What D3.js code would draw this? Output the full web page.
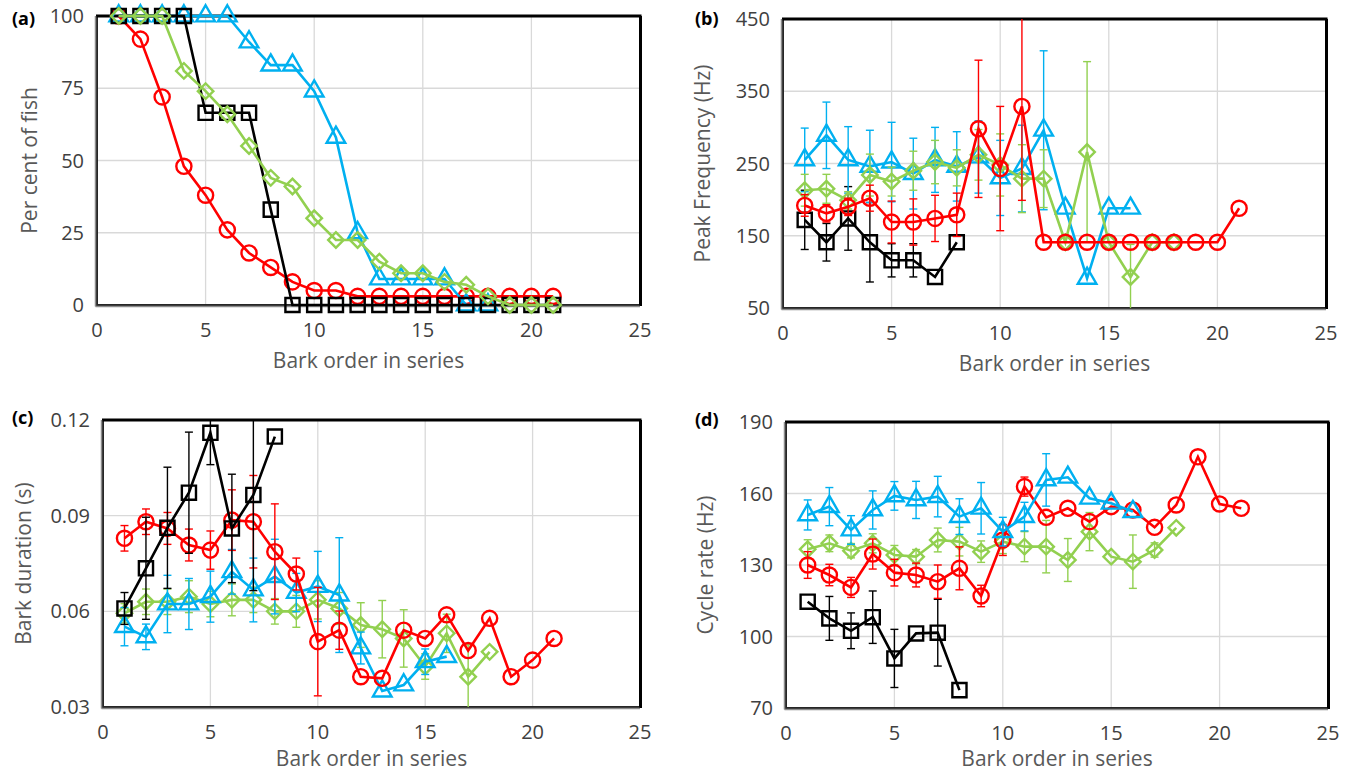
<!DOCTYPE html>
<html>
<head>
<meta charset="utf-8">
<script src="https://cdn.jsdelivr.net/npm/d3@7"></script>
<style>
  body { margin: 0; background: #fff; }
  svg text { font-family: "Open Sans", "Noto Sans", sans-serif; }
</style>
</head>
<body>
<svg id="chart" width="1352" height="775"></svg>
<script>
// bark order 1..21
const barkOrder = d3.range(1, 22)

// (a) per cent of fish
const aRed   = [100, 92, 72, 48, 38, 26, 18, 13, 8, 5, 5, 3, 3, 3, 3, 3, 3, 3, 3, 3, 3]
const aBlue  = [100, 100, 100, 100, 100, 100, 91, 83, 83, 74, 58, 25, 9, 9, 9, 9, 0, 0]
const aGreen = [100, 100, 100, 81, 74, 66, 55, 44, 41, 30, 22.5, 22.5, 15, 11, 11, 8, 7, 3, 0, 0, 0]
const aBlack = [100, 100, 100, 100, 66.5, 66.5, 66.5, 33, 0, 0, 0, 0, 0, 0, 0, 0, 0, 0, 0, 0, 0]

// (b) peak frequency (Hz) and error
const bRed      = [192, 181, 190, 202, 169, 169, 174, 179, 298, 243, 329, 141, 141, 141, 141, 141, 141, 141, 141, 141, 188]
const bRedErr   = [15, 12, 12, 18, 29, 32, 32, 30, 95, 86, 130, null, null, null, null, null, null, null, null, null, null]
const bBlue     = [255, 289, 255, 246, 252, 236, 255, 246, 259, 230, 243, 296, 188, 91, 188, 188]
const bBlueErr  = [44, 46, 46, 50, 55, 49, 45, 48, 50, 52, 60, 110, null, null, null, null]
const bGreen    = [213, 215, 199, 234, 225, 240, 252, 244, 262, 248, 229, 229, 141, 266, 141, 93, 141, 141]
const bGreenErr = [22, 20, 12, 29, 20, 27, 30, 25, 35, 43, 47, 40, null, 125, null, 45, null, null]
const bBlack    = [172, 141, 174, 141, 116, 116, 93, 141]
const bBlackErr = [41, 26, 44, 55, 23, 23, null, null]

// (c) bark duration (s) and error
const cRed      = [0.0829, 0.0881, 0.086, 0.0808, 0.0792, 0.0886, 0.0881, 0.0787, 0.0717, 0.0505, 0.0541, 0.0395, 0.039, 0.0541, 0.0515, 0.0589, 0.0477, 0.0578, 0.0395, 0.0447, 0.0515]
const cRedErr   = [0.004, 0.004, 0.005, 0.005, 0.006, 0.0095, 0.0145, 0.015, 0.005, 0.017, 0.006, null, null, null, null, null, null, null, null, null, null]
const cBlue     = [0.0552, 0.052, 0.0623, 0.0623, 0.0646, 0.0724, 0.0667, 0.0709, 0.0659, 0.0678, 0.0651, 0.0485, 0.0350, 0.0369, 0.0442, 0.0458]
const cBlueErr  = [0.006, 0.004, 0.009, 0.008, 0.008, 0.007, 0.01, 0.0117, 0.006, 0.011, 0.018, 0.005, null, null, 0.004, null]
const cGreen    = [0.0594, 0.063, 0.063, 0.0646, 0.0623, 0.0636, 0.0636, 0.06, 0.06, 0.0636, 0.0609, 0.0557, 0.0544, 0.0515, 0.0427, 0.0531, 0.0395, 0.0473]
const cGreenErr = [0.003, 0.004, 0.004, 0.005, 0.004, 0.005, 0.004, 0.004, 0.005, 0.006, 0.005, 0.007, 0.009, 0.009, 0.004, 0.006, 0.01, null]
const cBlack    = [0.0609, 0.0735, 0.0862, 0.0972, 0.116, 0.086, 0.0965, 0.1148]
const cBlackErr = [0.005, 0.016, 0.019, 0.019, 0.01, 0.017, 0.03, null]

// (d) cycle rate (Hz) and error
const dRed      = [130, 125.8, 120.6, 134.6, 126.8, 125.8, 123, 128.6, 117, 140.5, 162.9, 150, 153.8, 148.2, 154.5, 153.1, 145.8, 155.2, 175.4, 155.6, 153.8]
const dRedErr   = [5.6, 4.5, 4.2, 6.3, 5.6, 5, 7, 9, 4.5, 6.5, 4, null, null, null, null, null, null, null, null, null, null]
const dBlue     = [151, 154.5, 144.7, 153.1, 159, 157.3, 158.7, 150.3, 153.8, 144, 150.3, 165.7, 166.8, 158, 155.9, 152.4]
const dBlueErr  = [6.3, 8, 6, 8, 6, 7.8, 8.5, 7.5, 10.8, 6, 6, 11, null, null, null, null]
const dGreen    = [136.6, 139.1, 136, 139.1, 134.2, 133.5, 140.5, 139.8, 135.6, 139.8, 137.7, 137.7, 132.1, 144, 133.5, 131.4, 136.3, 145.6]
const dGreenErr = [4, 3.5, 3, 4, 4, 3, 5, 6, 4.5, 5, 6.3, 11, 9, 8, null, 11.2, 3, null]
const dBlack    = [114.6, 107.6, 102.4, 108.1, 90.8, 101.3, 101.6, 77.5]
const dBlackErr = [null, 9.2, 7.5, 11, 12.2, null, 14, null]

const xTicks = [0, 5, 10, 15, 20, 25]

const colors = { red: '#ff0000', blue: '#00b0f0', green: '#92d050', black: '#000000' }

const panels = [
    { label: '(a)', box: [97, 16, 640, 305], yDomain: [0, 100], yTicks: [0, 25, 50, 75, 100], fmt: d3.format('d'),
      title: 'Per cent of fish', titleX: 37, labelPos: [12, 25], xTitleGap: 63,
      series: [['red', aRed, null, 'circle'], ['blue', aBlue, null, 'triangle'], ['black', aBlack, null, 'square'], ['green', aGreen, null, 'diamond']] },
    { label: '(b)', box: [783, 19, 1326, 308], yDomain: [50, 450], yTicks: [50, 150, 250, 350, 450], fmt: d3.format('d'),
      title: 'Peak Frequency (Hz)', titleX: 710, labelPos: [695, 25], xTitleGap: 63,
      series: [['black', bBlack, bBlackErr, 'square'], ['blue', bBlue, bBlueErr, 'triangle'], ['green', bGreen, bGreenErr, 'diamond'], ['red', bRed, bRedErr, 'circle']] },
    { label: '(c)', box: [103, 420, 640, 707], yDomain: [0.03, 0.12], yTicks: [0.03, 0.06, 0.09, 0.12], fmt: d3.format('.2f'),
      title: 'Bark duration (s)', titleX: 31, labelPos: [12, 424], xTitleGap: 59,
      series: [['green', cGreen, cGreenErr, 'diamond'], ['blue', cBlue, cBlueErr, 'triangle'], ['red', cRed, cRedErr, 'circle'], ['black', cBlack, cBlackErr, 'square']] },
    { label: '(d)', box: [786, 422, 1328, 708], yDomain: [70, 190], yTicks: [70, 100, 130, 160, 190], fmt: d3.format('d'),
      title: 'Cycle rate (Hz)', titleX: 713, labelPos: [695, 426], xTitleGap: 58,
      series: [['black', dBlack, dBlackErr, 'square'], ['green', dGreen, dGreenErr, 'diamond'], ['red', dRed, dRedErr, 'circle'], ['blue', dBlue, dBlueErr, 'triangle']] }
]

const svg = d3.select('#chart')

const symbols = {
    circle: d3.symbol().type(d3.symbolCircle).size(180),
    square: d3.symbol().type(d3.symbolSquare).size(200),
    triangle: d3.symbol().type(d3.symbolTriangle).size(150),
    diamond: d3.symbol().type(d3.symbolSquare).size(120)
}

panels.forEach((p, pi) => {
    let [x0, y0, x1, y1] = p.box
    let x = d3.scaleLinear().domain([0, 25]).range([x0, x1])
    let y = d3.scaleLinear().domain(p.yDomain).range([y1, y0])

    let g = svg.append('g')

    svg.append('defs').append('clipPath').attr('id', 'clip' + pi)
        .append('rect').attr('x', x0).attr('y', y0).attr('width', x1 - x0).attr('height', y1 - y0)

    // grid
    g.selectAll('.vgrid').data(xTicks).join('line')
        .attr('x1', d => x(d)).attr('x2', d => x(d)).attr('y1', y0).attr('y2', y1)
        .style('stroke', '#d9d9d9').style('stroke-width', 1.3)
    g.selectAll('.hgrid').data(p.yTicks).join('line')
        .attr('x1', x0).attr('x2', x1).attr('y1', d => y(d)).attr('y2', d => y(d))
        .style('stroke', '#d9d9d9').style('stroke-width', 1.3)

    // frame
    g.append('rect').attr('x', x0).attr('y', y0).attr('width', x1 - x0).attr('height', y1 - y0)
        .style('fill', 'none').style('stroke', '#262626').style('stroke-width', 2)
    g.append('line').attr('x1', x0 - 1).attr('x2', x1 + 1.5).attr('y1', y0).attr('y2', y0)
        .style('stroke', '#000').style('stroke-width', 3)
    g.append('line').attr('x1', x1 + 0.5).attr('x2', x1 + 0.5).attr('y1', y0).attr('y2', y1 + 1)
        .style('stroke', '#000').style('stroke-width', 3)
    g.append('line').attr('x1', x0 - 1.5).attr('x2', x1).attr('y1', y1 + 1.5).attr('y2', y1 + 1.5)
        .style('stroke', '#8c8c8c').style('stroke-width', 1.5)
    g.append('line').attr('x1', x0 - 1.5).attr('x2', x0 - 1.5).attr('y1', y0).attr('y2', y1 + 1.5)
        .style('stroke', '#8c8c8c').style('stroke-width', 1.5)

    // tick labels
    g.selectAll('.xt').data(xTicks).join('text')
        .attr('x', d => x(d)).attr('y', y1 + 32)
        .attr('text-anchor', 'middle')
        .style('font-size', '20px').style('fill', '#404040')
        .text(d => d)
    g.selectAll('.yt').data(p.yTicks).join('text')
        .attr('x', x0 - 13).attr('y', d => y(d) + 7)
        .attr('text-anchor', 'end')
        .style('font-size', '20px').style('fill', '#404040')
        .text(d => p.fmt(d))

    // axis titles
    g.append('text')
        .attr('x', (x0 + x1) / 2).attr('y', y1 + p.xTitleGap)
        .attr('text-anchor', 'middle')
        .style('font-size', '21px').style('fill', '#595959')
        .text('Bark order in series')
    g.append('text')
        .attr('transform', `translate(${p.titleX},${(y0 + y1) / 2}) rotate(-90)`)
        .attr('text-anchor', 'middle')
        .style('font-size', '21px').style('fill', '#595959')
        .text(p.title)

    g.append('text')
        .attr('x', p.labelPos[0]).attr('y', p.labelPos[1])
        .style('font-size', '18px').style('font-weight', 'bold').style('fill', '#000')
        .text(p.label)

    // series
    p.series.forEach(([col, vals, errs, shape]) => {
        let c = colors[col]
        let pts = vals.map((v, i) => ({ x: barkOrder[i], y: v, e: errs ? errs[i] : null }))
        let sg = g.append('g')

        let eb = sg.append('g').attr('clip-path', `url(#clip${pi})`)
        let withErr = pts.filter(d => d.e != null)
        eb.selectAll('.ebar').data(withErr).join('line')
            .attr('x1', d => x(d.x)).attr('x2', d => x(d.x))
            .attr('y1', d => y(d.y - d.e)).attr('y2', d => y(d.y + d.e))
            .style('stroke', c).style('stroke-width', 1.4)
        eb.selectAll('.ecap').data(withErr.flatMap(d => [d.y - d.e, d.y + d.e].map(v => ({ x: d.x, v: v })))).join('line')
            .attr('x1', d => x(d.x) - 4).attr('x2', d => x(d.x) + 4)
            .attr('y1', d => y(d.v)).attr('y2', d => y(d.v))
            .style('stroke', c).style('stroke-width', 1.4)

        sg.append('path').datum(pts)
            .attr('d', d3.line().x(d => x(d.x)).y(d => y(d.y)))
            .style('fill', 'none').style('stroke', c).style('stroke-width', 2.6)

        sg.selectAll('.mk').data(pts).join('path')
            .attr('d', symbols[shape])
            .attr('transform', d => `translate(${x(d.x)},${y(d.y)})` + (shape === 'diamond' ? ' rotate(45)' : ''))
            .style('fill', 'none').style('stroke', c).style('stroke-width', 2.4)
    })
})
</script>
</body>
</html>
